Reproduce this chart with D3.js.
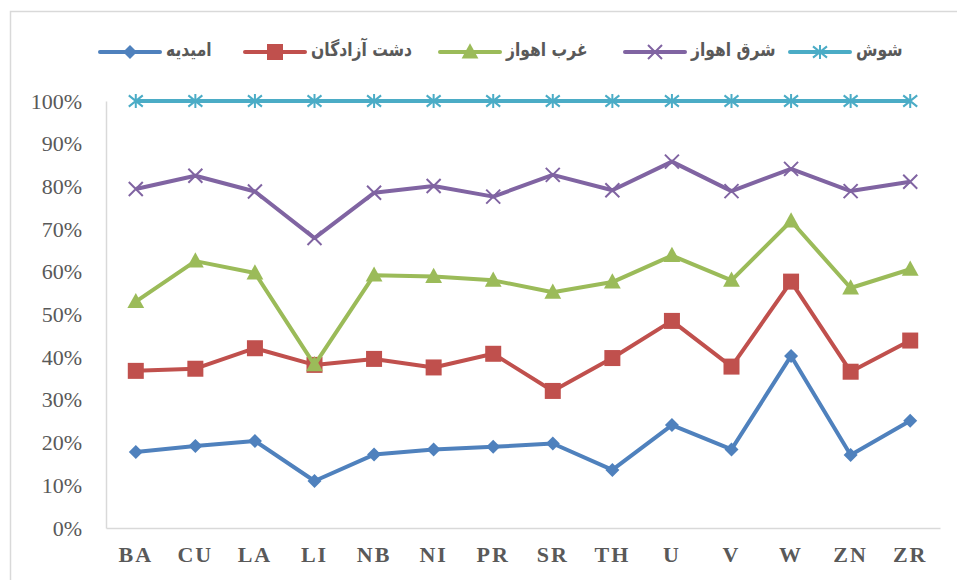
<!DOCTYPE html>
<html>
<head>
<meta charset="utf-8">
<script src="https://cdn.jsdelivr.net/npm/d3@7"></script>
<style>
  body { margin: 0; background: #fff; }
  svg { display: block; }
</style>
</head>
<body>
<svg width="957" height="580"></svg>
<script>
// datos
const categorias = ['BA', 'CU', 'LA', 'LI', 'NB', 'NI', 'PR', 'SR', 'TH', 'U', 'V', 'W', 'ZN', 'ZR'];
const nombres = ['امیدیه', 'دشت آزادگان', 'غرب اهواز', 'شرق اهواز', 'شوش'];
const omidiyeh = [17.8, 19.2, 20.4, 11.0, 17.2, 18.4, 19.0, 19.8, 13.6, 24.1, 18.4, 40.3, 17.1, 25.1];
const dashtAzadegan = [36.8, 37.3, 42.1, 38.2, 39.6, 37.6, 40.8, 32.1, 39.8, 48.5, 37.8, 57.7, 36.6, 43.9];
const gharbAhvaz = [53.0, 62.5, 59.7, 38.2, 59.2, 58.9, 58.0, 55.2, 57.6, 63.8, 58.0, 71.9, 56.2, 60.6];
const sharghAhvaz = [79.4, 82.5, 78.8, 67.9, 78.5, 80.1, 77.6, 82.7, 79.1, 85.8, 78.9, 84.1, 78.9, 81.1];
const shush = [100, 100, 100, 100, 100, 100, 100, 100, 100, 100, 100, 100, 100, 100];
const yTicks = [0, 10, 20, 30, 40, 50, 60, 70, 80, 90, 100];

const series = [
  { nombre: nombres[0], valores: omidiyeh, color: '#4F81BD', marca: 'diamond' },
  { nombre: nombres[1], valores: dashtAzadegan, color: '#C0504D', marca: 'square' },
  { nombre: nombres[2], valores: gharbAhvaz, color: '#9BBB59', marca: 'triangle' },
  { nombre: nombres[3], valores: sharghAhvaz, color: '#8064A2', marca: 'x' },
  { nombre: nombres[4], valores: shush, color: '#4BACC6', marca: 'star' }
];

const svg = d3.select('svg');
const margin = { top: 101, left: 106, right: 17, bottom: 52 };
const ancho = 957 - margin.left - margin.right;
const altura = 580 - margin.top - margin.bottom;

// borde exterior
svg.append('rect')
  .attr('x', 10.5).attr('y', 11.5)
  .attr('width', 960).attr('height', 600)
  .attr('fill', 'none').attr('stroke', '#d9d9d9').attr('stroke-width', 1.5);

const xScale = d3.scaleBand().domain(categorias).range([0, ancho]);
const yScale = d3.scaleLinear().domain([0, 100]).range([altura, 0]);

const g = svg.append('g').attr('transform', `translate(${margin.left},${margin.top})`);

// ejes
const yEje = g.append('g')
  .call(d3.axisLeft(yScale).tickValues(yTicks).tickSize(0).tickPadding(24).tickFormat(d => d + '%'));
yEje.select('.domain').attr('stroke', '#d9d9d9').attr('stroke-width', 1.5);
yEje.selectAll('text')
  .attr('font-family', '"Liberation Serif", "Times New Roman", serif')
  .attr('font-size', 22).attr('fill', '#595959');

const xEje = g.append('g')
  .attr('transform', `translate(0,${altura})`)
  .call(d3.axisBottom(xScale).tickSize(0).tickPadding(18));
xEje.select('.domain').attr('stroke', '#d9d9d9').attr('stroke-width', 1.5);
xEje.selectAll('text')
  .attr('font-family', '"Liberation Serif", "Times New Roman", serif')
  .attr('font-size', 22).attr('font-weight', 'bold').attr('fill', '#595959')
  .attr('letter-spacing', 2).attr('dy', '0.71em');

// marcas
const dibujarMarca = (sel, tipo, color, s) => {
  if (tipo === 'diamond') {
    sel.append('path').attr('d', `M0,${-s}L${s},0L0,${s}L${-s},0Z`).attr('fill', color);
  } else if (tipo === 'square') {
    sel.append('rect').attr('x', -s).attr('y', -s).attr('width', 2 * s).attr('height', 2 * s).attr('fill', color);
  } else if (tipo === 'triangle') {
    sel.append('path').attr('d', `M0,${-s * 1.1}L${s * 1.05},${s * 0.8}L${-s * 1.05},${s * 0.8}Z`).attr('fill', color);
  } else if (tipo === 'x') {
    sel.append('path').attr('d', `M${-s},${-s}L${s},${s}M${-s},${s}L${s},${-s}`)
      .attr('stroke', color).attr('stroke-width', 2).attr('fill', 'none');
  } else if (tipo === 'star') {
    sel.append('path').attr('d', `M0,${-s}L0,${s}M${-s},${-s * 0.8}L${s},${s * 0.8}M${-s},${s * 0.8}L${s},${-s * 0.8}`)
      .attr('stroke', color).attr('stroke-width', 2).attr('fill', 'none');
  }
};
const tamMarca = { diamond: 7, square: 8, triangle: 8, x: 7, star: 7 };

const linea = d3.line()
  .x((d, i) => xScale(categorias[i]) + xScale.bandwidth() / 2)
  .y(d => yScale(d));

series.forEach(s => {
  g.append('path')
    .datum(s.valores)
    .attr('d', linea)
    .attr('fill', 'none')
    .attr('stroke', s.color)
    .attr('stroke-width', 4)
    .attr('stroke-linejoin', 'round');
  g.selectAll(null).data(s.valores).enter().append('g')
    .attr('transform', (d, i) => `translate(${xScale(categorias[i]) + xScale.bandwidth() / 2},${yScale(d)})`)
    .each(function () { dibujarMarca(d3.select(this), s.marca, s.color, tamMarca[s.marca]); });
});

// leyenda
const posLeyenda = [100, 245, 440, 625, 790];
const ley = svg.append('g').attr('transform', 'translate(0,52)');
series.forEach((s, i) => {
  const item = ley.append('g').attr('transform', `translate(${posLeyenda[i]},0)`);
  item.append('line').attr('x1', 0).attr('x2', 60).attr('y1', 0).attr('y2', 0)
    .attr('stroke', s.color).attr('stroke-width', 4).attr('stroke-linecap', 'round');
  const m = item.append('g').attr('transform', 'translate(30,0)');
  dibujarMarca(m, s.marca, s.color, tamMarca[s.marca]);
  item.append('text')
    .attr('transform', 'translate(66,0) scale(0.82,1)')
    .attr('dy', '0.2em')
    .attr('text-anchor', 'start')
    .attr('font-family', '"DejaVu Sans", sans-serif')
    .attr('font-size', 19).attr('font-weight', 'bold').attr('fill', '#595959')
    .text(s.nombre);
});
</script>
</body>
</html>
